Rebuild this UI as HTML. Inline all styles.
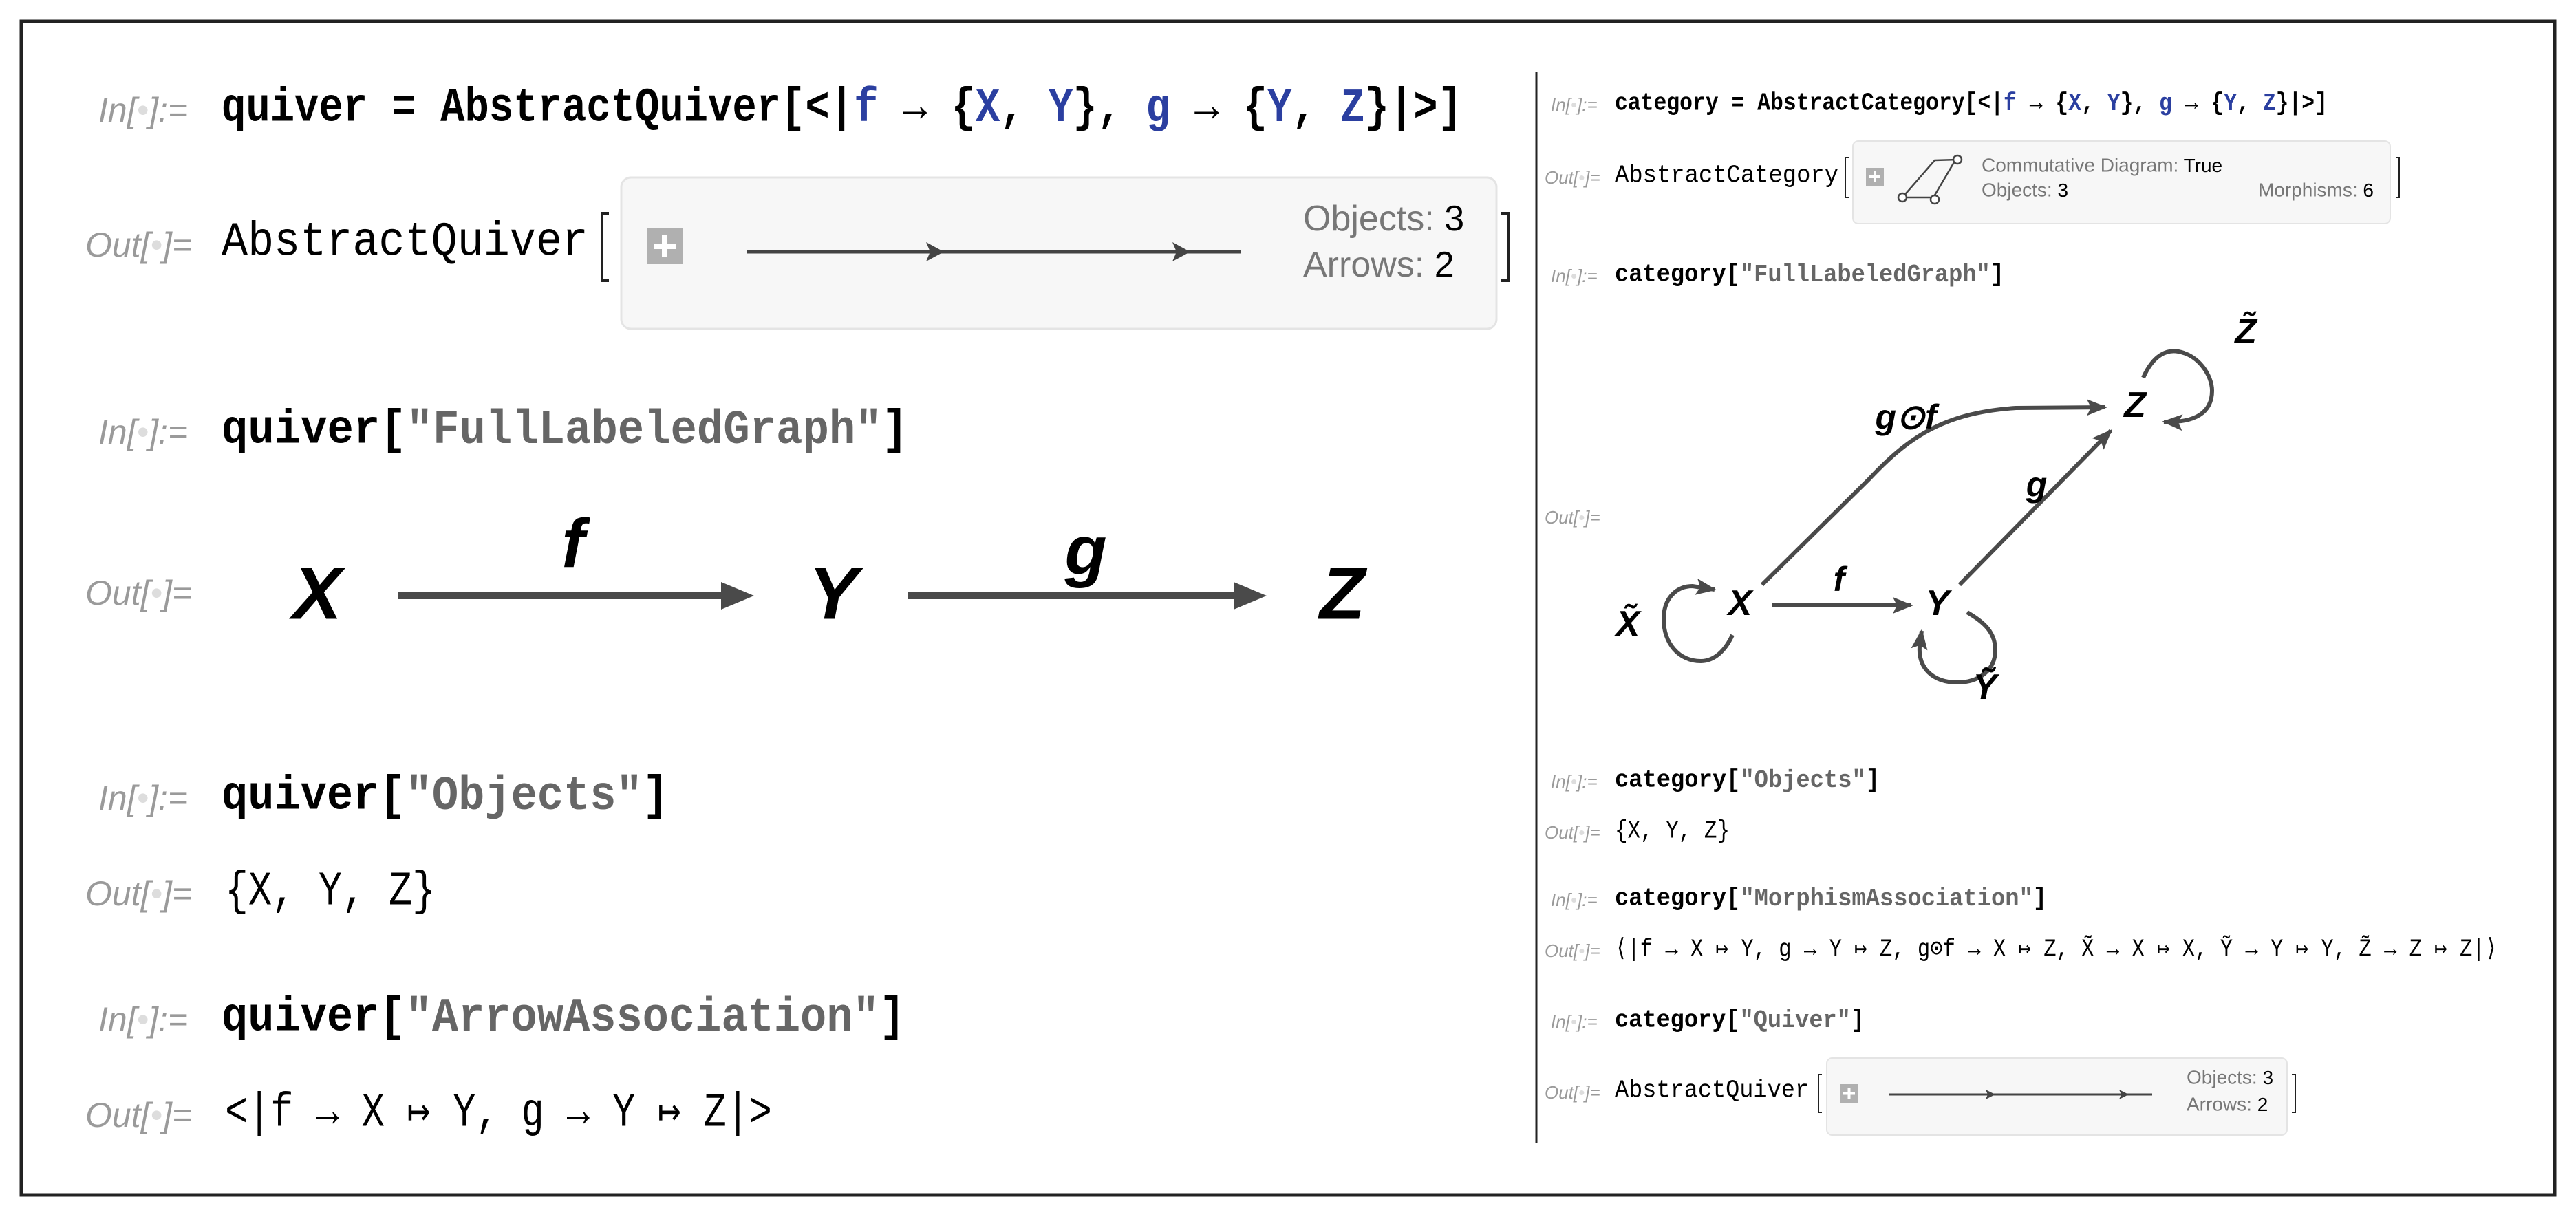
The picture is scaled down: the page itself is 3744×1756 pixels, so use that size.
<!DOCTYPE html>
<html><head><meta charset="utf-8">
<style>
html,body{margin:0;padding:0;background:#fff;}
svg{display:block;}
.m{font-family:"Liberation Mono","DejaVu Sans Mono",monospace;}
.b{font-weight:bold;}
.lab{font-family:"Liberation Sans",sans-serif;font-style:italic;fill:#9a9a9a;}
.s{font-family:"Liberation Sans",sans-serif;}
.n{font-family:"Liberation Sans",sans-serif;font-weight:bold;font-style:italic;fill:#000;}
.bl{fill:#2b3fa0;}
.gr{fill:#666;}
</style></head><body>
<svg width="3744" height="1756" viewBox="0 0 3744 1756" xmlns="http://www.w3.org/2000/svg">
<defs>
<marker id="ah" viewBox="0 0 10 10" refX="9" refY="5" markerWidth="5" markerHeight="5" orient="auto" markerUnits="strokeWidth"><path d="M0,1 L10,5 L0,9 L2,5 z" fill="#4a4a4a"/></marker>
</defs>
<rect x="31" y="31" width="3682" height="1706" fill="none" stroke="#222" stroke-width="5"/>
<line x1="2233" y1="105" x2="2233" y2="1662" stroke="#222" stroke-width="3"/>

<g dominant-baseline="central">
<!-- LEFT -->
<text class="lab" x="143" y="160" font-size="50">In[<tspan fill="#ddd">•</tspan>]:=</text>
<text class="m b" x="322" y="158" font-size="70" textLength="1803" lengthAdjust="spacingAndGlyphs">quiver = AbstractQuiver[&lt;|<tspan class="bl">f</tspan> → {<tspan class="bl">X</tspan>, <tspan class="bl">Y</tspan>}, <tspan class="bl">g</tspan> → {<tspan class="bl">Y</tspan>, <tspan class="bl">Z</tspan>}|&gt;]</text>

<text class="lab" x="124" y="356" font-size="50">Out[<tspan fill="#ddd">•</tspan>]=</text>
<text class="m" x="322" y="353" font-size="70" textLength="533" lengthAdjust="spacingAndGlyphs">AbstractQuiver</text>
<path d="M885,310 L875,310 L875,408 L885,408" fill="none" stroke="#222" stroke-width="4"/>
<rect x="903" y="258" width="1272" height="220" rx="14" fill="#f7f7f7" stroke="#e4e4e4" stroke-width="3"/>
<path d="M2182,310 L2192,310 L2192,408 L2182,408" fill="none" stroke="#222" stroke-width="4"/>
<rect x="940" y="332" width="52" height="52" fill="#b0b0b0"/>
<path d="M966,342 V374 M950,358 H982" stroke="#fff" stroke-width="8"/>
<line x1="1086" y1="366" x2="1803" y2="366" stroke="#444" stroke-width="5"/>
<path d="M1346,352 L1372,366 L1346,380 L1352,366z" fill="#444"/>
<path d="M1704,352 L1730,366 L1704,380 L1710,366z" fill="#444"/>
<text class="s" x="1894" y="318" font-size="52" fill="#777">Objects: <tspan fill="#000">3</tspan></text>
<text class="s" x="1894" y="385" font-size="52" fill="#777">Arrows: <tspan fill="#000">2</tspan></text>

<text class="lab" x="143" y="628" font-size="50">In[<tspan fill="#ddd">•</tspan>]:=</text>
<text class="m b" x="322" y="626" font-size="70" textLength="998" lengthAdjust="spacingAndGlyphs">quiver[<tspan class="gr">"FullLabeledGraph"</tspan>]</text>

<text class="lab" x="124" y="862" font-size="50">Out[<tspan fill="#ddd">•</tspan>]=</text>
<text class="n" x="461" y="862" font-size="108" text-anchor="middle">X</text>
<text class="n" x="1211" y="862" font-size="108" text-anchor="middle">Y</text>
<text class="n" x="1951" y="862" font-size="108" text-anchor="middle">Z</text>
<text class="n" x="833" y="790" font-size="100" text-anchor="middle">f</text>
<text class="n" x="1578" y="800" font-size="100" text-anchor="middle">g</text>
<line x1="578" y1="866" x2="1060" y2="866" stroke="#4a4a4a" stroke-width="10"/>
<path d="M1048,846 L1096,866 L1048,886z" fill="#4a4a4a"/>
<line x1="1320" y1="866" x2="1805" y2="866" stroke="#4a4a4a" stroke-width="10"/>
<path d="M1793,846 L1841,866 L1793,886z" fill="#4a4a4a"/>

<text class="lab" x="143" y="1160" font-size="50">In[<tspan fill="#ddd">•</tspan>]:=</text>
<text class="m b" x="322" y="1158" font-size="70" textLength="650" lengthAdjust="spacingAndGlyphs">quiver[<tspan class="gr">"Objects"</tspan>]</text>
<text class="lab" x="124" y="1299" font-size="50">Out[<tspan fill="#ddd">•</tspan>]=</text>
<text class="m" x="327" y="1297" font-size="70" textLength="306" lengthAdjust="spacingAndGlyphs">{X, Y, Z}</text>

<text class="lab" x="143" y="1482" font-size="50">In[<tspan fill="#ddd">•</tspan>]:=</text>
<text class="m b" x="322" y="1480" font-size="70" textLength="994" lengthAdjust="spacingAndGlyphs">quiver[<tspan class="gr">"ArrowAssociation"</tspan>]</text>
<text class="lab" x="124" y="1621" font-size="50">Out[<tspan fill="#ddd">•</tspan>]=</text>
<text class="m" x="327" y="1619" font-size="70" textLength="795" lengthAdjust="spacingAndGlyphs">&lt;|f → X ↦ Y, g → Y ↦ Z|&gt;</text>

<!-- RIGHT -->
<text class="lab" x="2254" y="152" font-size="26">In[<tspan fill="#ddd">•</tspan>]:=</text>
<text class="m b" x="2347" y="150" font-size="36" textLength="1036" lengthAdjust="spacingAndGlyphs">category = AbstractCategory[&lt;|<tspan class="bl">f</tspan> → {<tspan class="bl">X</tspan>, <tspan class="bl">Y</tspan>}, <tspan class="bl">g</tspan> → {<tspan class="bl">Y</tspan>, <tspan class="bl">Z</tspan>}|&gt;]</text>

<text class="lab" x="2245" y="258" font-size="26">Out[<tspan fill="#ddd">•</tspan>]=</text>
<text class="m" x="2347" y="255" font-size="36" textLength="325" lengthAdjust="spacingAndGlyphs">AbstractCategory</text>
<path d="M2687,229 L2682,229 L2682,287 L2687,287" fill="none" stroke="#222" stroke-width="2"/>
<rect x="2693" y="205" width="781" height="120" rx="8" fill="#f7f7f7" stroke="#e4e4e4" stroke-width="2"/>
<path d="M3482,229 L3487,229 L3487,287 L3482,287" fill="none" stroke="#222" stroke-width="2"/>
<rect x="2712" y="244" width="26" height="26" fill="#b0b0b0"/>
<path d="M2725,249 V265 M2717,257 H2733" stroke="#fff" stroke-width="4"/>
<g stroke="#444" stroke-width="2.5" fill="none">
<path d="M2765,287 L2810,287 M2765,287 L2812,233 L2845,232 M2810,287 L2840,236"/>
<circle cx="2765" cy="287" r="6" fill="#fff"/><circle cx="2812" cy="290" r="6" fill="#fff"/><circle cx="2845" cy="232" r="6" fill="#fff"/>
</g>
<text class="s" x="2880" y="240" font-size="28" fill="#777">Commutative Diagram: <tspan fill="#000">True</tspan></text>
<text class="s" x="2880" y="276" font-size="28" fill="#777">Objects: <tspan fill="#000">3</tspan></text>
<text class="s" x="3450" y="276" font-size="28" fill="#777" text-anchor="end">Morphisms: <tspan fill="#000">6</tspan></text>

<text class="lab" x="2254" y="401" font-size="26">In[<tspan fill="#ddd">•</tspan>]:=</text>
<text class="m b" x="2347" y="399" font-size="36" textLength="566" lengthAdjust="spacingAndGlyphs">category[<tspan class="gr">"FullLabeledGraph"</tspan>]</text>

<text class="lab" x="2245" y="752" font-size="26">Out[<tspan fill="#ddd">•</tspan>]=</text>
</g>

<!-- category graph -->
<g stroke="#4a4a4a" stroke-width="6" fill="none">
<line x1="2575" y1="880" x2="2778" y2="880" marker-end="url(#ah)"/>
<line x1="2848" y1="850" x2="3068" y2="626" marker-end="url(#ah)"/>
<path d="M2561,850 L2716,697 C2770,640 2820,600 2930,593 L3060,592" marker-end="url(#ah)"/>
<path d="M3115,549 C3130,515 3150,508 3166,511 C3195,516 3215,545 3215,568 C3215,600 3190,615 3145,613" marker-end="url(#ah)"/>
<path d="M2518,923 C2508,945 2492,961 2472,961 C2440,961 2418,935 2418,900 C2418,868 2438,852 2460,852 L2492,857" marker-end="url(#ah)"/>
<path d="M2859,890 C2885,905 2900,920 2900,945 C2900,975 2875,992 2845,992 C2808,992 2788,970 2790,940 L2793,917" marker-end="url(#ah)"/>
</g>
<g dominant-baseline="central">
<text class="n" x="2529" y="877" font-size="52" text-anchor="middle">X</text>
<text class="n" x="2816" y="877" font-size="52" text-anchor="middle">Y</text>
<text class="n" x="3103" y="589" font-size="52" text-anchor="middle">Z</text>
<text class="n" x="2673" y="842" font-size="50" text-anchor="middle">f</text>
<text class="n" x="2960" y="704" font-size="50" text-anchor="middle">g</text>
<text class="n" x="2770" y="606" font-size="50" text-anchor="middle">g⊙f</text>
<text class="n" x="3264" y="482" font-size="52" text-anchor="middle">Z̃</text>
<text class="n" x="2366" y="907" font-size="52" text-anchor="middle">X̃</text>
<text class="n" x="2885" y="999" font-size="52" text-anchor="middle">Ỹ</text>

<text class="lab" x="2254" y="1136" font-size="26">In[<tspan fill="#ddd">•</tspan>]:=</text>
<text class="m b" x="2347" y="1134" font-size="36" textLength="385" lengthAdjust="spacingAndGlyphs">category[<tspan class="gr">"Objects"</tspan>]</text>
<text class="lab" x="2245" y="1210" font-size="26">Out[<tspan fill="#ddd">•</tspan>]=</text>
<text class="m" x="2347" y="1208" font-size="36" textLength="167" lengthAdjust="spacingAndGlyphs">{X, Y, Z}</text>

<text class="lab" x="2254" y="1308" font-size="26">In[<tspan fill="#ddd">•</tspan>]:=</text>
<text class="m b" x="2347" y="1306" font-size="36" textLength="628" lengthAdjust="spacingAndGlyphs">category[<tspan class="gr">"MorphismAssociation"</tspan>]</text>
<text class="lab" x="2245" y="1382" font-size="26">Out[<tspan fill="#ddd">•</tspan>]=</text>
<text class="m" x="2347" y="1380" font-size="36" textLength="1283" lengthAdjust="spacingAndGlyphs">⟨|f → X ↦ Y, g → Y ↦ Z, g⊙f → X ↦ Z, X̃ → X ↦ X, Ỹ → Y ↦ Y, Z̃ → Z ↦ Z|⟩</text>

<text class="lab" x="2254" y="1485" font-size="26">In[<tspan fill="#ddd">•</tspan>]:=</text>
<text class="m b" x="2347" y="1483" font-size="36" textLength="363" lengthAdjust="spacingAndGlyphs">category[<tspan class="gr">"Quiver"</tspan>]</text>

<text class="lab" x="2245" y="1588" font-size="26">Out[<tspan fill="#ddd">•</tspan>]=</text>
<text class="m" x="2347" y="1585" font-size="36" textLength="282" lengthAdjust="spacingAndGlyphs">AbstractQuiver</text>
<path d="M2648,1562 L2643,1562 L2643,1617 L2648,1617" fill="none" stroke="#222" stroke-width="2"/>
<rect x="2655" y="1538" width="669" height="112" rx="8" fill="#f7f7f7" stroke="#e4e4e4" stroke-width="2"/>
<path d="M3331,1562 L3336,1562 L3336,1617 L3331,1617" fill="none" stroke="#222" stroke-width="2"/>
<rect x="2674" y="1576" width="27" height="27" fill="#b0b0b0"/>
<path d="M2687.5,1581 V1598 M2679,1589.5 H2696" stroke="#fff" stroke-width="4"/>
<line x1="2746" y1="1591" x2="3128" y2="1591" stroke="#444" stroke-width="3"/>
<path d="M2886,1584 L2900,1591 L2886,1598 L2889,1591z" fill="#444"/>
<path d="M3080,1584 L3094,1591 L3080,1598 L3083,1591z" fill="#444"/>
<text class="s" x="3178" y="1566" font-size="28" fill="#777">Objects: <tspan fill="#000">3</tspan></text>
<text class="s" x="3178" y="1605" font-size="28" fill="#777">Arrows: <tspan fill="#000">2</tspan></text>
</g>
</svg>
</body></html>
